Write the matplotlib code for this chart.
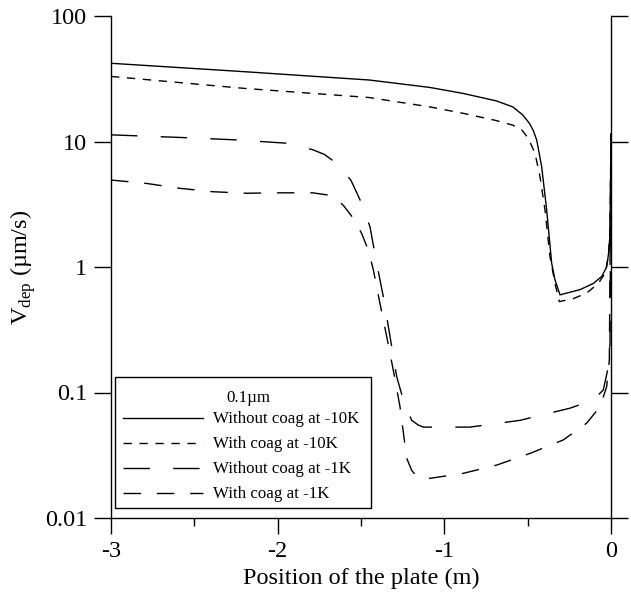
import matplotlib
matplotlib.use("Agg")
import matplotlib.pyplot as plt
from matplotlib.patches import Rectangle
from matplotlib.ticker import FixedLocator, NullLocator, MultipleLocator

plt.rcParams['font.family'] = ['Liberation Serif', 'DejaVu Serif']
plt.rcParams['mathtext.fontset'] = 'custom'
plt.rcParams['mathtext.rm'] = 'Liberation Serif'
plt.rcParams['axes.unicode_minus'] = False

# Without coag at -10K
x_nc10 = [-3.0, -2.2, -1.45, -1.09, -0.89, -0.69, -0.59, -0.53, -0.49, -0.466, -0.446, -0.416,
          -0.386, -0.356, -0.336, -0.306, -0.186, -0.106, -0.056, -0.026, -0.012, -0.006, 0.0]
v_nc10 = [42.0, 36.0, 30.9, 27.0, 24.2, 21.1, 18.9, 16.3, 14.0, 12.2, 10.3, 6.3,
          2.85, 1.07, 0.79, 0.60, 0.66, 0.74, 0.84, 1.0, 1.36, 1.86, 11.5]

# With coag at -10K
x_c10 = [-3.0, -2.2, -1.45, -1.09, -0.89, -0.69, -0.59, -0.536, -0.496, -0.456, -0.426,
         -0.396, -0.366, -0.336, -0.31, -0.226, -0.146, -0.076, -0.036, -0.016, -0.006, 0.0]
v_c10 = [33.0, 26.5, 22.4, 18.9, 16.8, 14.7, 13.5, 12.4, 10.6, 8.05, 5.25,
         2.85, 1.21, 0.74, 0.53, 0.56, 0.62, 0.74, 0.89, 1.21, 2.0, 11.5]

# Without coag at -1K
x_nc1 = [-3.0, -2.53, -2.25, -1.95, -1.79, -1.72, -1.66, -1.61, -1.56, -1.50, -1.446, -1.406,
         -1.366, -1.326, -1.286, -1.246, -1.196, -1.156, -1.126, -0.846, -0.546, -0.246,
         -0.106, -0.046, -0.016, -0.006, 0.0]
v_nc1 = [11.3, 10.7, 10.3, 9.7, 8.6, 7.9, 6.9, 5.9, 4.9, 3.3, 2.09, 1.07,
         0.58, 0.28, 0.134, 0.087, 0.060, 0.055, 0.053, 0.053, 0.060, 0.075,
         0.087, 0.105, 0.16, 0.245, 11.0]

# With coag at -1K
x_c1 = [-3.0, -2.79, -2.59, -2.39, -2.19, -1.99, -1.79, -1.70, -1.65, -1.606, -1.546, -1.496,
        -1.456, -1.426, -1.386, -1.346, -1.306, -1.266, -1.226, -1.196, -1.166, -1.086, -0.886,
        -0.686, -0.486, -0.286, -0.146, -0.066, -0.026, -0.01, 0.0]
v_c1 = [4.93, 4.64, 4.24, 3.98, 3.87, 3.9, 3.9, 3.75, 3.5, 3.1, 2.44, 1.85,
        1.36, 0.95, 0.51, 0.28, 0.15, 0.077, 0.030, 0.024, 0.0214, 0.0207, 0.0227,
        0.0264, 0.0327, 0.0419, 0.057, 0.077, 0.111, 0.182, 11.0]

x_ticks = [-3, -2, -1, 0]
y_ticks = [0.01, 0.1, 1, 10, 100]
y_tick_labels = ['0.01', '0.1', '1', '10', '100']
legend_title = '0.1µm'
labels = ['Without coag at -10K', 'With coag at -10K', 'Without coag at -1K', 'With coag at -1K']

fig = plt.figure(figsize=(6.31, 5.99), dpi=100)
ax = fig.add_axes([111 / 631, 81 / 599, 500 / 631, 502 / 599])

lw = 1.0
ax.plot(x_nc10, v_nc10, color='black', lw=lw, linestyle='-', label=labels[0])
ax.plot(x_c10, v_c10, color='black', lw=lw, linestyle=(0, (6.0, 5.5)), label=labels[1])
ax.plot(x_nc1, v_nc1, color='black', lw=lw, linestyle=(0, (19.0, 16.8)), label=labels[2])
ax.plot(x_c1, v_c1, color='black', lw=lw, linestyle=(0, (12.6, 11.4)), label=labels[3])

ax.set_yscale('log')
ax.set_xlim(-3, 0)
ax.set_ylim(0.01, 100)

ax.spines['top'].set_visible(False)
for s in ['left', 'right', 'bottom']:
    ax.spines[s].set_linewidth(1.0)

ax.xaxis.set_major_locator(FixedLocator(x_ticks))
ax.xaxis.set_minor_locator(MultipleLocator(0.5))
ax.set_xticklabels([str(t) for t in x_ticks])
ax.yaxis.set_major_locator(FixedLocator(y_ticks))
ax.yaxis.set_minor_locator(NullLocator())
ax.set_yticklabels(y_tick_labels)

ax.tick_params(axis='x', which='major', direction='out', length=11.5, width=1.0,
               labelsize=17.5, pad=5)
ax.tick_params(axis='x', which='minor', direction='out', length=6, width=1.0)
ax.tick_params(axis='y', which='major', direction='out', length=12, width=1.0,
               left=True, right=True, labelsize=17.5, pad=5)

ax.set_xlabel('Position of the plate (m)', fontsize=17.5, labelpad=4)
ax.set_ylabel('V$_{\\rm dep}$ (µm/s)', fontsize=17.5, labelpad=5)

# legend box drawn by hand so the padding matches
box = Rectangle((0.008, 0.020), 0.511, 0.261, transform=ax.transAxes,
                facecolor='white', edgecolor='black', lw=1.0, zorder=5)
ax.add_patch(box)
leg = ax.legend(loc='lower left', bbox_to_anchor=(0.024, 0.031), fontsize=12.2,
                frameon=False, handlelength=4.73, handletextpad=0.57,
                labelspacing=0.53, borderpad=0, borderaxespad=0)
leg.set_zorder(6)
ax.text(0.274, 0.239, legend_title, transform=ax.transAxes, fontsize=12.2,
        ha='center', va='center', zorder=7)

fig.savefig('out.png', dpi=100)
